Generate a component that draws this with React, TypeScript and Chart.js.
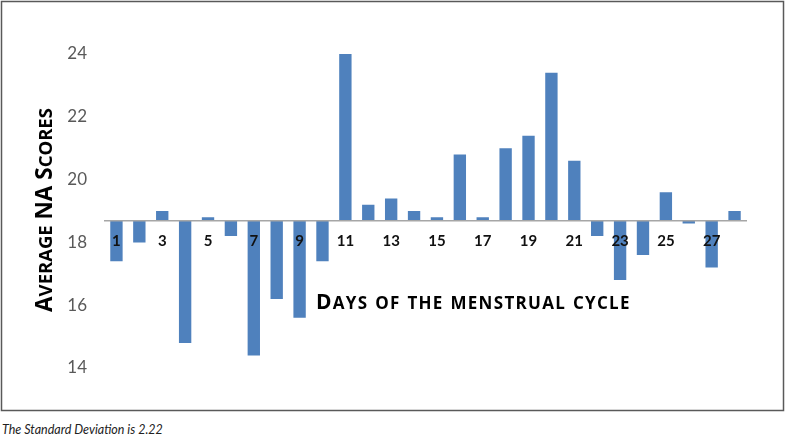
import React, { useEffect, useRef } from "react";
import { Chart, registerables } from "chart.js";

Chart.register(...registerables);

const days: string[] = [
  "1", "2", "3", "4", "5", "6", "7", "8", "9", "10", "11", "12", "13", "14",
  "15", "16", "17", "18", "19", "20", "21", "22", "23", "24", "25", "26", "27", "28",
];
const naScores: number[] = [
  17.4, 18.0, 19.0, 14.8, 18.8, 18.2, 14.4, 16.2, 15.6, 17.4, 24.0, 19.2, 19.4, 19.0,
  18.8, 20.8, 18.8, 21.0, 21.4, 23.4, 20.6, 18.2, 16.8, 17.6, 19.6, 18.6, 17.2, 19.0,
];
const baseline = 18.7;
const yTicks: number[] = [14, 16, 18, 20, 22, 24];
const yTitle = "Average NA Scores";
const xTitle = "Days of the menstrual cycle";
const caption = "The Standard Deviation is 2.22";

const FONT = "Lato, 'Open Sans', sans-serif";
const TITLE_FONT = "'Open Sans', Lato, sans-serif";

// draw text with small caps: uppercase letters big, lowercase as smaller caps
function drawSmallCaps(
  ctx: CanvasRenderingContext2D,
  text: string,
  x: number,
  y: number,
  big: number,
  small: number,
  align: "left" | "center",
  spacing: number
) {
  const segs: { t: string; size: number }[] = [];
  for (const ch of text) {
    const isUpper = ch !== ch.toLowerCase() || ch === " ";
    const size = isUpper ? big : small;
    const t = ch.toUpperCase();
    if (segs.length && segs[segs.length - 1].size === size) segs[segs.length - 1].t += t;
    else segs.push({ t, size });
  }
  (ctx as any).letterSpacing = `${spacing}px`;
  let total = 0;
  const widths = segs.map((s) => {
    ctx.font = `bold ${s.size}px ${TITLE_FONT}`;
    const w = ctx.measureText(s.t).width;
    total += w;
    return w;
  });
  let cx = align === "center" ? x - total / 2 : x;
  ctx.textBaseline = "alphabetic";
  ctx.textAlign = "left";
  segs.forEach((s, i) => {
    ctx.font = `bold ${s.size}px ${TITLE_FONT}`;
    ctx.fillText(s.t, cx, y);
    cx += widths[i];
  });
  (ctx as any).letterSpacing = "0px";
}

const decorPlugin = {
  id: "decor",
  afterDraw(chart: any) {
    const ctx = chart.ctx as CanvasRenderingContext2D;
    ctx.save();
    // frame
    ctx.strokeStyle = "#595959";
    ctx.lineWidth = 1.5;
    ctx.strokeRect(1.5, 1.5, 782, 409);
    ctx.fillStyle = "#000";
    // x title
    drawSmallCaps(ctx, xTitle, 316, 309, 21, 17, "left", 1.3);
    // y title
    ctx.translate(52, 210);
    ctx.rotate(-Math.PI / 2);
    drawSmallCaps(ctx, yTitle, 0, 0, 22.5, 18.5, "center", 0);
    ctx.restore();
  },
};

export default function App() {
  const ref = useRef<HTMLCanvasElement>(null);
  useEffect(() => {
    const canvas = ref.current!;
    const chart = new Chart(canvas, {
      type: "bar",
      data: {
        labels: days,
        datasets: [
          {
            data: naScores,
            base: baseline,
            backgroundColor: "#4f81bd",
            borderWidth: 0,
            barPercentage: 1,
            categoryPercentage: 0.54,
          } as any,
        ],
      },
      options: {
        animation: false,
        responsive: false,
        maintainAspectRatio: false,
        layout: { padding: { left: 8, right: 40, top: 22.6, bottom: 12.6 } },
        plugins: { legend: { display: false }, tooltip: { enabled: false } },
        scales: {
          x: {
            type: "category",
            position: { y: baseline } as any,
            offset: true,
            grid: { display: false, drawTicks: false },
            border: { display: true, color: "#a6a6a6", width: 1.5, z: 1 },
            afterFit: (scale: any) => {
              scale.height = 0;
              scale.paddingLeft = 0;
              scale.paddingRight = 0;
              scale.paddingTop = 0;
              scale.paddingBottom = 0;
            },
            ticks: {
              z: 1,
              autoSkip: false,
              maxRotation: 0,
              padding: 12,
              color: "#111",
              font: { family: FONT, size: 15, weight: "bold" },
              callback: (_v: any, i: number) => (i % 2 === 0 ? days[i] : ""),
            },
          },
          y: {
            type: "linear",
            min: 13,
            max: 25,
            grid: { display: false, drawTicks: false },
            border: { display: false },
            afterBuildTicks: (scale: any) => {
              scale.ticks = yTicks.map((v) => ({ value: v }));
            },
            afterFit: (scale: any) => {
              scale.width = 97;
              scale.paddingTop = 0;
              scale.paddingBottom = 0;
            },
            ticks: {
              padding: 18,
              color: "#595959",
              font: { family: FONT, size: 17 },
            },
          },
        },
      },
      plugins: [decorPlugin],
    });
    return () => chart.destroy();
  }, []);

  return (
    <div style={{ position: "absolute", left: 0, top: 0, width: 786, height: 435, background: "#fff" }}>
      <canvas ref={ref} width={786} height={412} style={{ display: "block", width: 786, height: 412 }} />
      <div
        style={{
          position: "absolute",
          left: 2,
          top: 421.5,
          fontFamily: FONT,
          fontStyle: "italic",
          fontSize: 12.5,
          color: "#222",
          whiteSpace: "nowrap",
        }}
      >
        {caption}
      </div>
    </div>
  );
}
